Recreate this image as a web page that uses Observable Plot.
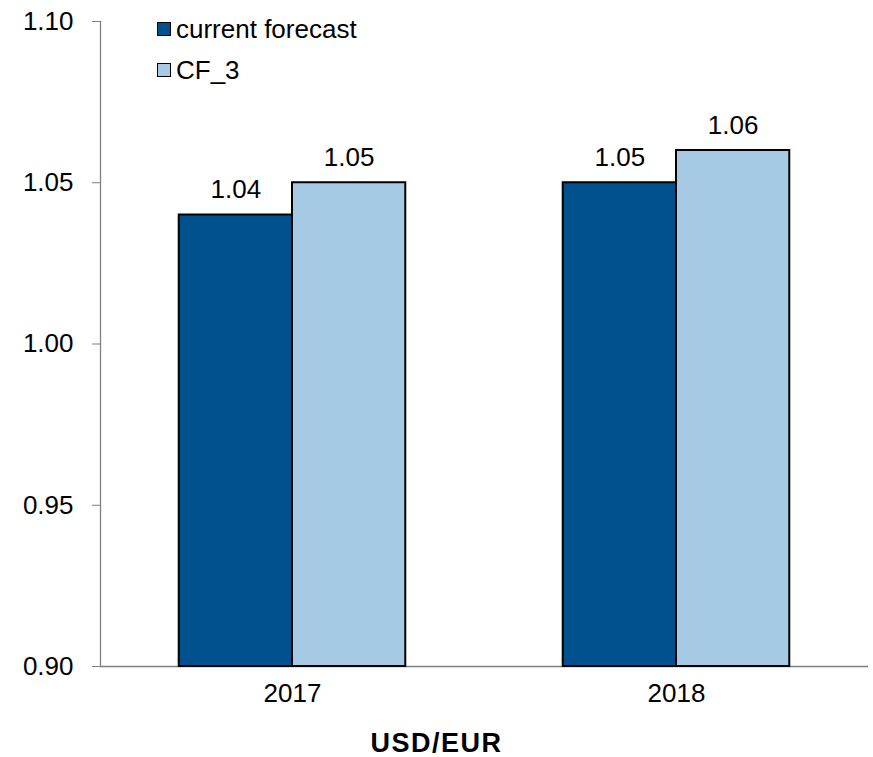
<!DOCTYPE html>
<html>
<head>
<meta charset="utf-8">
<script src="https://cdn.jsdelivr.net/npm/d3@7"></script>
<script src="https://cdn.jsdelivr.net/npm/@observablehq/plot@0.6"></script>
<style>
  html, body { margin: 0; padding: 0; background: #fff; }
  #wrap { position: relative; width: 873px; font-family: "Liberation Sans", Arial, sans-serif; }
  .legend { position: absolute; left: 157px; font-size: 26px; color: #000; display: flex; align-items: center; }
  .legend .sw { width: 12px; height: 12px; border: 1.5px solid #000; margin-right: 5px; }
  #caption { width: 873px; text-align: center; font-weight: bold; font-size: 27px; letter-spacing: 1.5px; line-height: 30px; padding-top: 13px; }
</style>
</head>
<body>
<div id="wrap">
  <div id="chart"></div>
  <div id="legend"></div>
  <div id="caption"></div>
</div>
<script>
const years = ["2017", "2018"];
const currentForecast = [1.04, 1.05];
const cf3 = [1.05, 1.06];
const seriesNames = ["current forecast", "CF_3"];
const seriesColors = ["#00518E", "#A6CAE3"];
const yTicks = [0.90, 0.95, 1.00, 1.05, 1.10];
const axisTitle = "USD/EUR";

const width = 873, height = 715;
const marginLeft = 100, marginRight = 5, marginTop = 21, marginBottom = 49;
const paddingInner = 0.41, paddingOuter = 0.205;
const W = width - marginLeft - marginRight;
const step = W / (years.length - paddingInner + 2 * paddingOuter);
const bw = step * (1 - paddingInner);

const cur = years.map((y, i) => ({year: y, value: currentForecast[i]}));
const cf = years.map((y, i) => ({year: y, value: cf3[i]}));
const yMin = yTicks[0];

const fmt = d3.format(".2f");
const font = "Liberation Sans, Arial, sans-serif";

const chart = Plot.plot({
  width, height, marginLeft, marginRight, marginTop, marginBottom,
  style: {fontFamily: font, fontSize: "26px", color: "#000", background: "#fff"},
  x: {domain: years, paddingInner, paddingOuter, round: false, label: null},
  y: {domain: [yTicks[0], yTicks[yTicks.length - 1]], label: null},
  marks: [
    Plot.ruleY([yMin], {stroke: "#808080", strokeWidth: 1.5}),
    Plot.frame({anchor: "left", stroke: "#808080", strokeWidth: 1.3}),
    Plot.axisY({ticks: yTicks, tickFormat: fmt, tickSize: 8, tickPadding: 19, stroke: "#808080", fontSize: 26, label: null}),
    Plot.axisX({tickSize: 0, tickPadding: 17, fontSize: 26, label: null}),
    Plot.barY(cur, {x: "year", y1: () => yMin, y2: "value", fill: seriesColors[0], stroke: "#000", strokeWidth: 2, insetRight: bw / 2}),
    Plot.barY(cf, {x: "year", y1: () => yMin, y2: "value", fill: seriesColors[1], stroke: "#000", strokeWidth: 2, insetLeft: bw / 2}),
    Plot.text(cur, {x: "year", y: "value", text: d => fmt(d.value), dx: -bw / 4, dy: -17, lineAnchor: "bottom", fontSize: 26, fill: "#000"}),
    Plot.text(cf, {x: "year", y: "value", text: d => fmt(d.value), dx: bw / 4, dy: -17, lineAnchor: "bottom", fontSize: 26, fill: "#000"})
  ]
});
document.getElementById("chart").appendChild(chart);

const legendTops = [14, 55];
const lg = document.getElementById("legend");
seriesNames.forEach((name, i) => {
  const item = document.createElement("div");
  item.className = "legend";
  item.style.top = legendTops[i] + "px";
  item.style.height = "30px";
  const sw = document.createElement("div");
  sw.className = "sw";
  sw.style.background = seriesColors[i];
  const t = document.createElement("span");
  t.textContent = name;
  item.appendChild(sw);
  item.appendChild(t);
  lg.appendChild(item);
});
document.getElementById("caption").textContent = axisTitle;
</script>
</body>
</html>
